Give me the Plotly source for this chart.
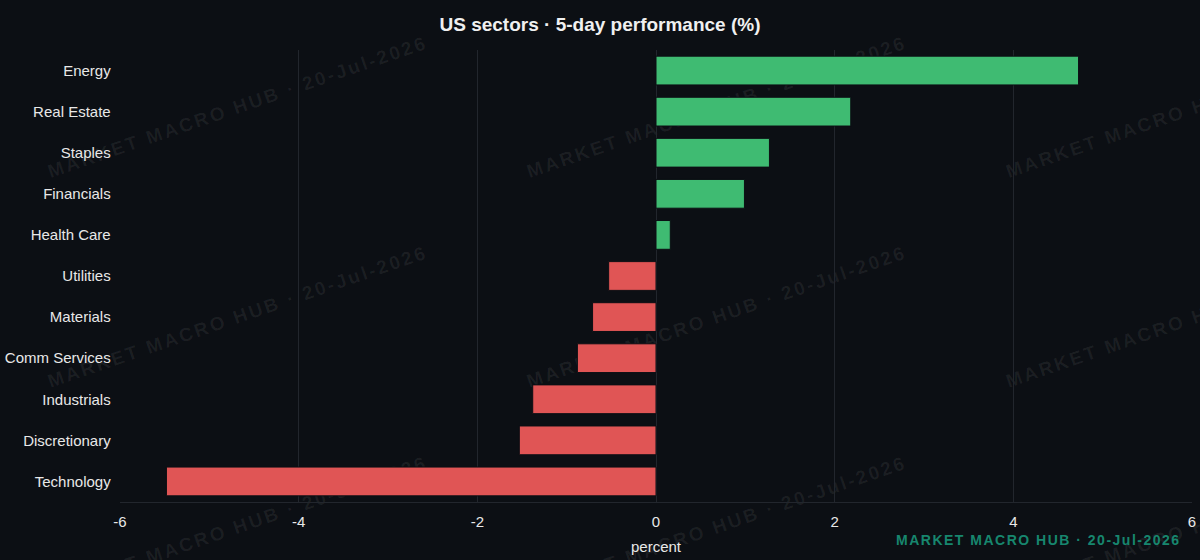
import plotly.graph_objects as go

sectors = ["Energy", "Real Estate", "Staples", "Financials", "Health Care", "Utilities",
           "Materials", "Comm Services", "Industrials", "Discretionary", "Technology"]
perf = [4.73, 2.18, 1.27, 0.99, 0.16, -0.53, -0.71, -0.88, -1.38, -1.53, -5.48]
x_ticks = [-6, -4, -2, 0, 2, 4, 6]
x_tick_labels = ["-6", "-4", "-2", "0", "2", "4", "6"]

title_text = "US sectors · 5-day performance (%)"
brand_text = "MARKET MACRO HUB · 20-Jul-2026"

GREEN = "#3fbb72"
RED = "#e05555"
BG = "#0c0f14"
GRID = "#22262d"
FONT = "Liberation Sans, Arial, Helvetica, sans-serif"

colors = [GREEN if v >= 0 else RED for v in perf]

fig = go.Figure()
fig.add_trace(go.Bar(
    x=perf, y=sectors, orientation="h",
    marker=dict(color=colors, line=dict(color=BG, width=1)),
    width=0.7, hoverinfo="x+y", showlegend=False,
))

# watermark grid (below traces)
wm_x = [0.109, 0.556, 1.003]
wm_y = [0.878, 0.414, -0.051]
shapes = []
for yy in wm_y:
    for xx in wm_x:
        shapes.append(dict(
            type="rect", xref="paper", yref="paper",
            x0=xx - 0.05, x1=xx + 0.05, y0=yy - 0.05, y1=yy + 0.05,
            line=dict(width=0), fillcolor="rgba(0,0,0,0)", layer="below",
            label=dict(text='<span style="letter-spacing:2.5px">' + brand_text + '</span>',
                       textangle=-19, textposition="middle center",
                       font=dict(family=FONT, size=19,
                                 color="rgba(255,255,255,0.065)", weight="bold")),
        ))

fig.update_layout(
    width=1200, height=560,
    paper_bgcolor=BG, plot_bgcolor="rgba(0,0,0,0)",
    margin=dict(l=120, r=8, t=50, b=58),
    title=dict(text=title_text, x=0.5, xanchor="center", y=0.957, yanchor="middle",
               font=dict(family=FONT, size=19, color="#f0f0f0", weight="bold")),
    font=dict(family=FONT, color="#e8e8e8", size=15),
    xaxis=dict(range=[-6, 6], tickvals=x_ticks, ticktext=x_tick_labels, automargin=False,
               showgrid=True, gridcolor=GRID, gridwidth=1,
               zeroline=True, zerolinecolor=GRID, zerolinewidth=1,
               showline=True, linecolor=GRID, linewidth=1,
               ticks="", ticklabelstandoff=6, tickfont=dict(size=15, color="#e8e8e8"),
               title=dict(text="percent", font=dict(size=15, color="#e8e8e8"), standoff=12)),
    yaxis=dict(categoryorder="array", categoryarray=sectors, autorange="reversed",
               automargin=False,
               showgrid=False, zeroline=False, showline=False, ticks="",
               ticksuffix="  ", tickfont=dict(size=15, color="#e8e8e8")),
    shapes=shapes,
    annotations=[dict(
        text='<span style="letter-spacing:1.5px">' + brand_text + '</span>',
        xref="paper", yref="paper", x=0.992, y=-0.083,
        xanchor="right", yanchor="middle", showarrow=False,
        font=dict(family=FONT, size=14, color="#17866e", weight="bold"),
    )],
)

fig.write_html("out.html")
